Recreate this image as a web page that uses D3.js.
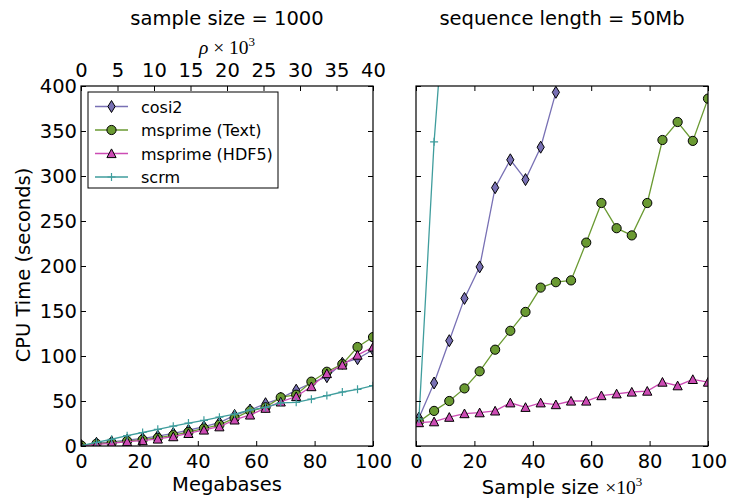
<!DOCTYPE html>
<html>
<head>
<meta charset="utf-8">
<script src="https://cdn.jsdelivr.net/npm/d3@7"></script>
<style>
body { margin: 0; background: #fff; }
svg { font-family: "DejaVu Sans", sans-serif; }
</style>
</head>
<body>
<div id="chart"></div>
<script>
// left panel: run time against sequence length (sample size = 1000)
const megabases = [0.1, 5.3, 10.5, 15.8, 21.1, 26.3, 31.6, 36.8, 42.1, 47.4, 52.6, 57.9, 63.2, 68.4, 73.7, 78.9, 84.2, 89.5, 94.7, 100]
const lenCosi2 = [0.5, 3, 4.5, 6.5, 8.5, 11, 14, 17.5, 21.5, 26, 34, 40, 47, 53, 62, 70, 77, 92, 97, 107]
const lenText = [0.5, 2.5, 3.5, 5.5, 7, 9, 12, 15.5, 19.5, 23.5, 31, 39, 43, 54, 57, 71.5, 82.5, 91, 110, 121]
const lenHdf5 = [0, 1.9, 3, 4.8, 6, 7.8, 10.4, 14, 17.8, 21.4, 29, 34.5, 42, 49, 55, 66, 80.5, 90, 101, 110]
const lenScrm = [0.5, 4, 7.5, 11.5, 15, 18.5, 22, 25.5, 28.5, 32, 35.5, 40, 43, 48, 48.5, 52, 56, 60, 63, 67]

// right panel: run time against sample size (sequence length = 50Mb)
const sampleSizes = [1, 6.2, 11.4, 16.6, 21.8, 27.1, 32.3, 37.5, 42.7, 47.9, 53.1, 58.3, 63.5, 68.7, 73.9, 79.2, 84.4, 89.6, 94.8, 100]
const sizeCosi2 = [31, 70, 117, 164, 199, 287, 318, 296, 332, 393]
const sizeText = [27, 39, 50, 64, 83, 107, 128, 149, 176, 182, 184, 226, 270, 242, 234, 270, 340, 360, 339, 386]
const sizeHdf5 = [26, 27, 32, 36, 37, 39, 48, 43, 48, 46, 50, 50, 56, 58, 60, 61, 71, 67, 74, 71]
const sizeScrm = [30, 338, 560]

const seriesNames = ['cosi2', 'msprime (Text)', 'msprime (HDF5)', 'scrm']
const colors = ['#7870b4', '#6a9a32', '#cc4bb4', '#3f9d9d']
const shapes = ['diamond', 'circle', 'triangle', 'plus']

const yTicks = d3.range(0, 401, 50)
const xTicks = d3.range(0, 101, 20)
const rhoTicks = d3.range(0, 41, 5)

const width = 729, height = 501
const plotTop = 86, plotBottom = 446
const panels = [
	{ left: 81, right: 373, xs: megabases, ys: [lenCosi2, lenText, lenHdf5, lenScrm] },
	{ left: 416, right: 708, xs: sampleSizes, ys: [sizeCosi2, sizeText, sizeHdf5, sizeScrm] }
]

let svg = d3.select('#chart')
.append('svg')
.attr('width', width)
.attr('height', height)

let yScale = d3.scaleLinear()
.domain([0, 400])
.range([plotBottom, plotTop])

function marker(g, shape, color) {
	if (shape == 'circle') {
		g.append('circle').attr('r', 4.6)
		.attr('fill', color).attr('stroke', '#000').attr('stroke-width', 1)
	} else if (shape == 'diamond') {
		g.append('path').attr('d', 'M0,-6L3.6,0L0,6L-3.6,0Z')
		.attr('fill', color).attr('stroke', '#000').attr('stroke-width', 1)
	} else if (shape == 'triangle') {
		g.append('path').attr('d', 'M0,-4.6L4.6,4.1L-4.6,4.1Z')
		.attr('fill', color).attr('stroke', '#000').attr('stroke-width', 1)
	} else {
		g.append('path').attr('d', 'M-4,0H4M0,-4V4')
		.attr('stroke', color).attr('stroke-width', 1.2)
	}
}

panels.forEach((p, pi) => {
	let xScale = d3.scaleLinear()
	.domain([0, 100])
	.range([p.left, p.right])

	let clipId = 'clip' + pi
	svg.append('clipPath').attr('id', clipId)
	.append('rect')
	.attr('x', p.left).attr('y', plotTop)
	.attr('width', p.right - p.left).attr('height', plotBottom - plotTop)

	let plot = svg.append('g').attr('clip-path', `url(#${clipId})`)

	p.ys.forEach((vals, si) => {
		let pts = vals.map((v, i) => [p.xs[i], v])
		let line = d3.line()
		.x(d => xScale(d[0]))
		.y(d => yScale(d[1]))

		plot.append('path')
		.attr('d', line(pts))
		.attr('fill', 'none')
		.attr('stroke', colors[si])
		.attr('stroke-width', 1.3)

		pts.forEach(d => {
			let g = plot.append('g')
			.attr('transform', `translate(${xScale(d[0])},${yScale(d[1])})`)
			marker(g, shapes[si], colors[si])
		})
	})

	// inward ticks on all four sides
	let bottomAxis = d3.axisBottom(xScale).tickValues(xTicks).tickSize(-5).tickSizeOuter(0).tickPadding(8)
	let ax = svg.append('g')
	.attr('transform', `translate(0,${plotBottom})`)
	.call(bottomAxis)

	let topAxis
	if (pi == 0) {
		let rhoScale = d3.scaleLinear().domain([0, 40]).range([p.left, p.right])
		topAxis = d3.axisTop(rhoScale).tickValues(rhoTicks).tickSize(-5).tickSizeOuter(0).tickPadding(9)
	} else {
		topAxis = d3.axisTop(xScale).tickValues(xTicks).tickSize(-5).tickSizeOuter(0).tickFormat('')
	}
	let at = svg.append('g')
	.attr('transform', `translate(0,${plotTop})`)
	.call(topAxis)

	let leftAxis = d3.axisLeft(yScale).tickValues(yTicks).tickSize(-5).tickSizeOuter(0).tickPadding(4)
	if (pi == 1) leftAxis.tickFormat('')
	let al = svg.append('g')
	.attr('transform', `translate(${p.left},0)`)
	.call(leftAxis)

	let ar = svg.append('g')
	.attr('transform', `translate(${p.right},0)`)
	.call(d3.axisRight(yScale).tickValues(yTicks).tickSize(-5).tickSizeOuter(0).tickFormat(''))

	;[ax, at, al, ar].forEach(a => {
		a.select('.domain').remove()
		a.selectAll('line').attr('stroke', '#000')
		a.selectAll('text').attr('font-size', 19.5).attr('font-family', 'DejaVu Sans').attr('fill', '#000')
	})

	svg.append('rect')
	.attr('x', p.left).attr('y', plotTop)
	.attr('width', p.right - p.left).attr('height', plotBottom - plotTop)
	.attr('fill', 'none').attr('stroke', '#000').attr('stroke-width', 1.2)
})

// titles and labels
const mid0 = (81 + 373) / 2, mid1 = (416 + 708) / 2

svg.append('text').attr('x', mid0).attr('y', 25).attr('text-anchor', 'middle')
.attr('font-size', 19.5).text('sample size = 1000')
svg.append('text').attr('x', mid1).attr('y', 25).attr('text-anchor', 'middle')
.attr('font-size', 19.5).text('sequence length = 50Mb')

let rho = svg.append('text').attr('x', mid0).attr('y', 54).attr('text-anchor', 'middle')
.attr('font-size', 19.5).attr('font-family', 'Liberation Serif')
rho.append('tspan').attr('font-style', 'italic').text('ρ')
rho.append('tspan').text(' × 10')
rho.append('tspan').attr('font-size', 13).attr('dy', -8).text('3')

svg.append('text').attr('x', mid0).attr('y', 491).attr('text-anchor', 'middle')
.attr('font-size', 19.5).text('Megabases')

let sl = svg.append('text').attr('x', mid1).attr('y', 494).attr('text-anchor', 'middle')
.attr('font-size', 19.5)
sl.append('tspan').text('Sample size ')
sl.append('tspan').attr('font-family', 'Liberation Serif').text('×10')
sl.append('tspan').attr('font-family', 'Liberation Serif').attr('font-size', 13).attr('dy', -8).text('3')

svg.append('text')
.attr('transform', 'translate(30,265) rotate(-90)')
.attr('text-anchor', 'middle')
.attr('font-size', 19.5).text('CPU Time (seconds)')

// legend
let legend = svg.append('g')
legend.append('rect')
.attr('x', 88).attr('y', 92).attr('width', 190).attr('height', 96)
.attr('fill', '#fff').attr('stroke', '#000').attr('stroke-width', 1)

seriesNames.forEach((name, i) => {
	let y = 106.5 + i * 23.5
	legend.append('line')
	.attr('x1', 95).attr('x2', 128).attr('y1', y).attr('y2', y)
	.attr('stroke', colors[i]).attr('stroke-width', 1.3)
	let g = legend.append('g').attr('transform', `translate(111.5,${y})`)
	marker(g, shapes[i], colors[i])
	legend.append('text')
	.attr('x', 141).attr('y', y + 6)
	.attr('font-size', 16).text(name)
})
</script>
</body>
</html>
